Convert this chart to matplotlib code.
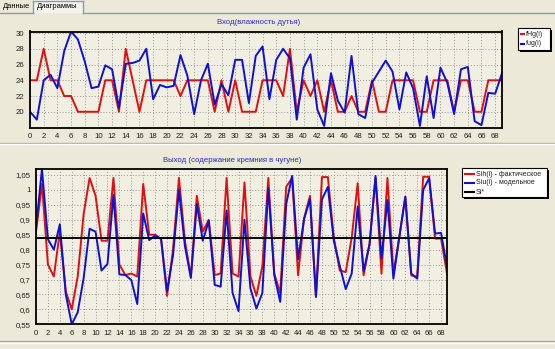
import matplotlib
matplotlib.use("Agg")
import matplotlib.pyplot as plt
from matplotlib.patches import Rectangle
from matplotlib.lines import Line2D
from matplotlib.ticker import FuncFormatter
import numpy as np

# ---- data ----
steps = list(range(70))

fHg = [24, 24, 28, 24, 24, 22, 22, 20, 20, 20,
       20, 24, 24, 20, 28, 24, 20, 24, 24, 24,
       24, 24, 22, 24, 24, 24, 24, 20, 24, 20,
       24, 20, 20, 20, 24, 24, 24, 22, 28, 20,
       24, 22, 24, 20, 24, 20, 20, 22, 20, 20,
       24, 20, 20, 24, 24, 24, 24, 20, 20, 24,
       24, 24, 20, 24, 24, 20, 20, 24, 24, 24]

fug = [20.0, 19.0, 24.0, 24.7, 23.0, 27.7, 30.2, 29.2, 26.4, 23.0,
       23.2, 25.9, 25.4, 20.5, 26.1, 26.2, 26.5, 28.0, 21.6, 23.4,
       23.1, 23.3, 27.2, 24.6, 19.7, 24.0, 26.1, 20.9, 23.5, 22.1,
       26.6, 26.6, 21.1, 27.1, 28.3, 21.6, 26.6, 28.0, 26.8, 19.0,
       25.6, 27.3, 20.3, 18.2, 24.9, 21.4, 19.9, 27.1, 19.7, 19.2,
       23.7, 25.1, 26.5, 25.1, 20.3, 25.0, 23.0, 18.2, 24.5, 19.2,
       25.6, 23.7, 19.7, 25.4, 25.7, 18.8, 18.3, 22.4, 22.3, 24.9]

Sih = [0.86, 1.02, 0.75, 0.71, 0.86, 0.66, 0.60, 0.71, 0.92, 1.04,
       0.98, 0.83, 0.83, 1.04, 0.75, 0.715, 0.72, 0.71, 1.02, 0.85,
       0.85, 0.835, 0.645, 0.80, 1.04, 0.83, 0.71, 0.98, 0.86, 0.90,
       0.715, 0.72, 1.04, 0.72, 0.71, 1.025, 0.71, 0.645, 0.745, 1.04,
       0.72, 0.655, 1.01, 1.04, 0.714, 0.905, 0.98, 0.642, 1.043, 1.043,
       0.84, 0.73, 0.725, 0.84, 1.022, 0.714, 0.82, 1.04, 0.72, 1.04,
       0.72, 0.843, 0.977, 0.714, 0.709, 1.044, 1.044, 0.837, 0.837, 0.72]

Siu = [0.87, 1.07, 0.835, 0.80, 0.885, 0.65, 0.55, 0.59, 0.705, 0.87,
       0.86, 0.73, 0.752, 0.983, 0.717, 0.715, 0.698, 0.618, 0.921, 0.832,
       0.847, 0.836, 0.66, 0.78, 1.0, 0.812, 0.705, 0.952, 0.83, 0.896,
       0.682, 0.676, 0.931, 0.655, 0.594, 0.90, 0.67, 0.603, 0.655, 1.007,
       0.714, 0.625, 0.952, 1.047, 0.768, 0.902, 0.969, 0.642, 0.968, 1.01,
       0.829, 0.745, 0.668, 0.72, 0.944, 0.728, 0.818, 1.047, 0.77, 0.966,
       0.703, 0.843, 0.977, 0.72, 0.703, 1.0, 1.039, 0.854, 0.856, 0.742]

Si_star = 0.84

top_title = "Вход(влажность дутья)"
bottom_title = "Выход (содержание кремния в чугуне)"
top_labels = ["fHg(i)", "fug(i)"]
bottom_labels = ["Sih(i) - фактическое", "Siu(i) - модельное", "Si*"]
tab_names = ["Данные", "Диаграммы"]

# ---- style ----
W, H = 555, 349
DPI = 100
BG = "#ECE9D8"
PLOT_BG = "#F1EFE2"
RED = "#E01010"
BLUE = "#1010D0"
TITLE_C = "#2A2AD0"
FS = 5.6

plt.rcParams["font.family"] = ["Liberation Sans", "DejaVu Sans"]

fig = plt.figure(figsize=(W / DPI, H / DPI), dpi=DPI, facecolor=BG)


def px_axes(l, t, r, b):
    return fig.add_axes([l / W, 1 - b / H, (r - l) / W, (b - t) / H])


def style_axes(ax):
    ax.set_facecolor(PLOT_BG)
    for s in ax.spines.values():
        s.set_linewidth(1.3)
        s.set_color("black")
    ax.grid(True, color="#9A9A9A", linestyle=(0, (1, 2)), linewidth=0.7)
    ax.set_axisbelow(True)
    ax.tick_params(length=0, labelsize=FS, pad=4, labelcolor="#202020")


def comma(v, _):
    s = f"{v:.2f}".rstrip("0").rstrip(".")
    return s.replace(".", ",")


# top chart
ax1 = px_axes(30, 31.5, 502, 127.5)
style_axes(ax1)
ax1.plot(steps, fHg, color=RED, lw=1.4)
ax1.plot(steps, fug, color=BLUE, lw=1.4)
ax1.set_xlim(0, 69)
ax1.set_ylim(18, 30.2)
ax1.set_xticks(range(0, 69, 2))
ax1.set_yticks(range(20, 31, 2))

# bottom chart
ax2 = px_axes(36, 169, 447, 324.3)
style_axes(ax2)
ax2.plot(steps, Sih, color=RED, lw=1.4)
ax2.plot(steps, Siu, color=BLUE, lw=1.4)
ax2.axhline(Si_star, color="black", lw=1.4)
ax2.set_xlim(0, 69)
ax2.set_ylim(0.55, 1.07)
ax2.set_xticks(range(0, 69, 2))
ax2.set_yticks(np.round(np.arange(0.55, 1.051, 0.05), 2))
ax2.yaxis.set_major_formatter(FuncFormatter(comma))

# titles
fig.text(259 / W, 1 - 22 / H, top_title, color=TITLE_C, fontsize=FS,
         ha="center", va="center")
fig.text(232 / W, 1 - 160 / H, bottom_title, color=TITLE_C, fontsize=FS,
         ha="center", va="center")


def legend_box(l, t, r, b, items):
    # shadow then box
    fig.patches.append(Rectangle((l / W + 2 / W, 1 - (b + 2) / H), (r - l) / W, (b - t) / H,
                                 transform=fig.transFigure, facecolor="black",
                                 edgecolor="none", zorder=5))
    fig.patches.append(Rectangle((l / W, 1 - b / H), (r - l) / W, (b - t) / H,
                                 transform=fig.transFigure, facecolor="white",
                                 edgecolor="black", lw=0.8, zorder=6))
    for (label, color, y, x0, x1, tx) in items:
        fig.lines.append(Line2D([x0 / W, x1 / W], [1 - y / H, 1 - y / H],
                                transform=fig.transFigure, color=color, lw=1.5, zorder=7))
        fig.text(tx / W, 1 - y / H, label, fontsize=5.0, ha="left", va="center",
                 color="#202020", zorder=8)


legend_box(518, 28, 550, 50, [
    (top_labels[0], RED, 34, 521, 524, 526),
    (top_labels[1], BLUE, 43.5, 521, 524, 526),
])
legend_box(462, 168, 547, 197, [
    (bottom_labels[0], RED, 174, 465, 474, 476),
    (bottom_labels[1], BLUE, 183, 465, 474, 476),
    (bottom_labels[2], "black", 192, 465, 474, 476),
])


# tab strip and panel separators
def hline(y, color, x0=0, x1=W, lw=1.0):
    fig.lines.append(Line2D([x0 / W, x1 / W], [1 - y / H, 1 - y / H],
                            transform=fig.transFigure, color=color, lw=lw))


def vline(x, y0, y1, color, lw=1.0):
    fig.lines.append(Line2D([x / W, x / W], [1 - y0 / H, 1 - y1 / H],
                            transform=fig.transFigure, color=color, lw=lw))


fig.patches.append(Rectangle((33 / W, 1 - 13 / H), 50 / W, 13 / H,
                             transform=fig.transFigure, facecolor="#F4F3EE",
                             edgecolor="none"))
hline(12.5, "#919B9C", 0, 33)
hline(12.5, "#919B9C", 83, W)
vline(33, 1, 12.5, "#919B9C")
vline(83, 1, 12.5, "#919B9C")
hline(1, "#919B9C", 33, 83)
fig.text(3 / W, 1 - 7 / H, tab_names[0], fontsize=FS - 0.2, ha="left", va="center")
fig.text(37 / W, 1 - 6 / H, tab_names[1], fontsize=FS - 0.2, ha="left", va="center")

hline(143, "#ACA899", 0, W)
hline(144.5, "white", 0, W)
hline(341, "#ACA899", 0, W)
hline(342.5, "white", 0, W)

fig.savefig("out.png", dpi=DPI, facecolor=BG)
